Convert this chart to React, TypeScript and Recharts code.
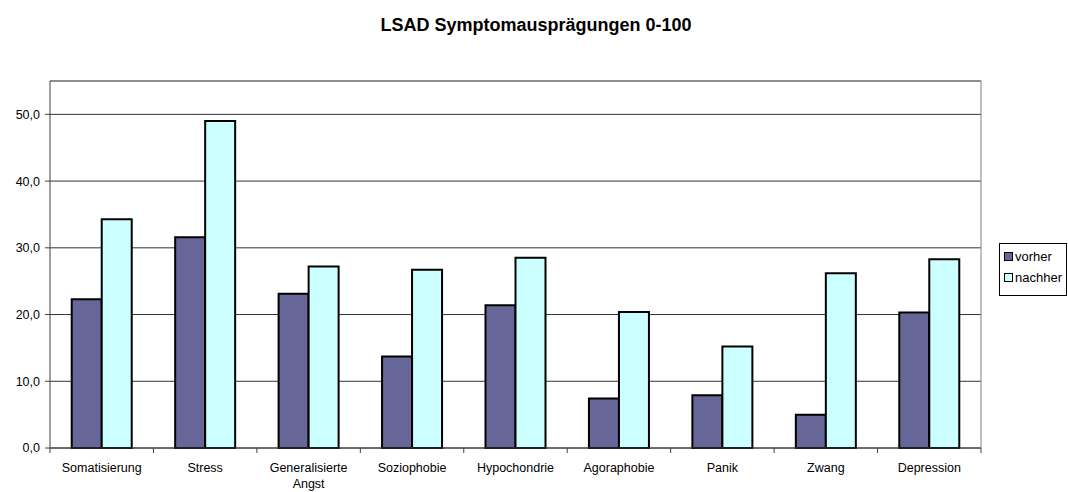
import React from "react";
import {
  BarChart,
  Bar,
  XAxis,
  YAxis,
  CartesianGrid,
  ReferenceLine,
} from "recharts";

const categories = [
  "Somatisierung",
  "Stress",
  "Generalisierte Angst",
  "Soziophobie",
  "Hypochondrie",
  "Agoraphobie",
  "Panik",
  "Zwang",
  "Depression",
];
const vorher = [22.3, 31.6, 23.1, 13.7, 21.4, 7.4, 7.9, 5.0, 20.3];
const nachher = [34.3, 49.0, 27.2, 26.7, 28.5, 20.4, 15.2, 26.2, 28.3];
const yTicks = [0, 10, 20, 30, 40, 50];

const COLORS = { vorher: "#666699", nachher: "#CCFFFF" };
const FONT = "'Liberation Sans', Arial, sans-serif";

const W = 1068;
const H = 492;
const MARGIN = { top: 81, right: 86, left: 0, bottom: 0 };
const Y_W = 50;
const PLOT_W = W - MARGIN.left - MARGIN.right - Y_W - 1;

const data = categories.map((name, i) => ({
  name,
  vorher: vorher[i],
  nachher: nachher[i],
}));

const fmt = (v: number) => v.toFixed(1).replace(".", ",");

function CategoryTick(props: any) {
  const { x, y, payload, index, visibleTicksCount } = props;
  const count = visibleTicksCount ?? categories.length;
  const band = PLOT_W / count;
  const lines = String(payload.value).split(" ");
  const left = x - band / 2;
  const right = x + band / 2;
  return (
    <g>
      <line x1={left} x2={left} y1={y - 5} y2={y} stroke="#404040" />
      {index === count - 1 && (
        <line x1={right} x2={right} y1={y - 5} y2={y} stroke="#404040" />
      )}
      <text
        x={x}
        y={y}
        textAnchor="middle"
        fontSize={12.5}
        fontFamily={FONT}
        fill="#000"
      >
        {lines.map((l, i) => (
          <tspan key={i} x={x} dy={i === 0 ? 18.5 : 16.5}>
            {l}
          </tspan>
        ))}
      </text>
    </g>
  );
}

function LegendBox() {
  const items = [
    { name: "vorher", color: COLORS.vorher },
    { name: "nachher", color: COLORS.nachher },
  ];
  return (
    <div
      style={{
        position: "absolute",
        left: 999,
        top: 243,
        border: "1px solid #000",
        background: "#fff",
        width: 68,
        height: 53,
        boxSizing: "border-box",
        paddingTop: 2,
        paddingLeft: 4,
        fontFamily: FONT,
        fontSize: 13,
      }}
    >
      {items.map((it) => (
        <div
          key={it.name}
          style={{ display: "flex", alignItems: "center", height: 21 }}
        >
          <span
            style={{
              display: "inline-block",
              width: 7,
              height: 7,
              border: "1.5px solid #000",
              background: it.color,
              marginRight: 2,
            }}
          />
          <span>{it.name}</span>
        </div>
      ))}
    </div>
  );
}

export default function App() {
  return (
    <div style={{ position: "fixed", left: 0, top: 0, width: W, height: H, background: "#fff" }}>
      <div
        style={{
          position: "absolute",
          left: 0,
          width: 1072,
          top: 14,
          textAlign: "center",
          fontFamily: FONT,
          fontWeight: "bold",
          fontSize: 18,
          lineHeight: "22px",
        }}
      >
        LSAD Symptomausprägungen 0-100
      </div>
      <BarChart
        width={W}
        height={H}
        data={data}
        margin={MARGIN}
        barCategoryGap="21%"
        barGap={0}
        style={{ fontFamily: FONT }}
      >
        <CartesianGrid vertical={false} stroke="#333" />
        <XAxis
          dataKey="name"
          height={44}
          interval={0}
          tickLine={false}
          tickSize={5}
          tickMargin={0}
          axisLine={{ stroke: "#404040" }}
          tick={<CategoryTick />}
        />
        <YAxis
          width={Y_W}
          domain={[0, 55]}
          ticks={yTicks}
          interval={0}
          tickFormatter={fmt}
          tickSize={5}
          tickMargin={5}
          axisLine={{ stroke: "#404040" }}
          tickLine={{ stroke: "#404040" }}
          tick={{ fill: "#000", fontSize: 12.5, fontFamily: FONT }}
        />
        <YAxis
          yAxisId="r"
          orientation="right"
          width={1}
          domain={[0, 55]}
          tick={false}
          tickLine={false}
          axisLine={{ stroke: "#808080" }}
        />
        <ReferenceLine y={55} stroke="#808080" />
        <Bar
          dataKey="vorher"
          fill={COLORS.vorher}
          stroke="#000"
          strokeWidth={2}
          isAnimationActive={false}
        />
        <Bar
          dataKey="nachher"
          fill={COLORS.nachher}
          stroke="#000"
          strokeWidth={2}
          isAnimationActive={false}
        />
      </BarChart>
      <LegendBox />
    </div>
  );
}
